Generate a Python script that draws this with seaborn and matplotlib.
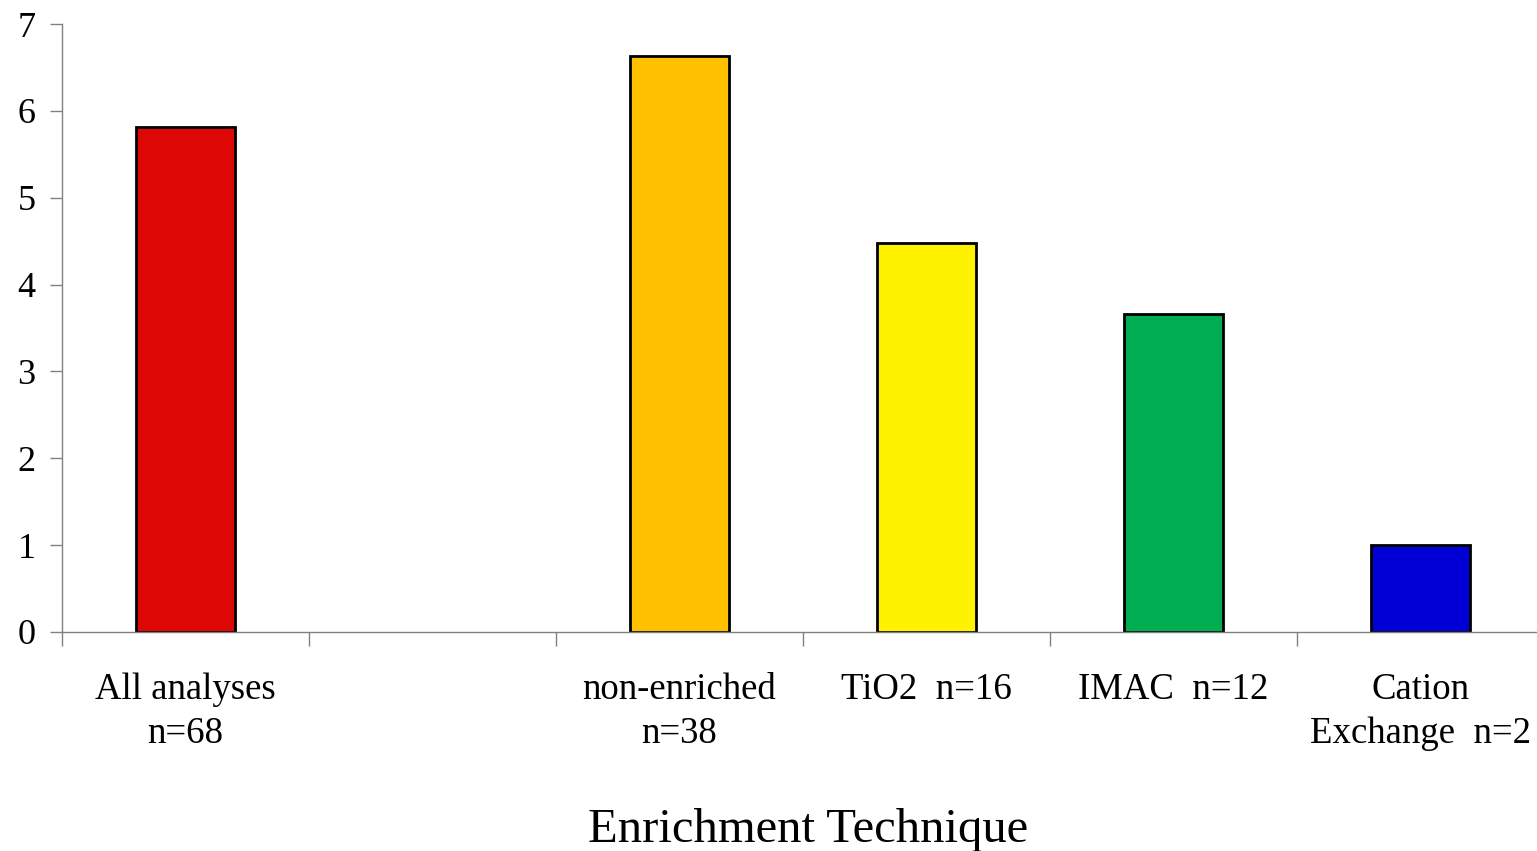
import numpy as np
import pandas as pd
import matplotlib
matplotlib.use("Agg")
import matplotlib.pyplot as plt
import seaborn as sns

# values
categories = ["All analyses\nn=68", "gap", "non-enriched\nn=38", "TiO2  n=16", "IMAC  n=12", "Cation\nExchange  n=2"]
values = [5.81, None, 6.63, 4.48, 3.66, 1.0]
colors = ["#DD0806", "#FFFFFF", "#FFC000", "#FFF200", "#00AD50", "#0000D4"]
tick_labels = ["All analyses\nn=68", "", "non-enriched\nn=38", "TiO2  n=16", "IMAC  n=12", "Cation\nExchange  n=2"]

sns.set_style("white")
plt.rcParams['font.family'] = ['Liberation Serif', 'DejaVu Serif']
plt.rcParams['text.color'] = 'black'

df = pd.DataFrame({"cat": categories, "val": values}).dropna()
pal = dict(zip(categories, colors))

fig = plt.figure(figsize=(15.37, 8.51), dpi=100)
ax = fig.add_axes([62/1537, 1-632/851, (1544-62)/1537, (632-24)/851])
sns.barplot(data=df, x="cat", y="val", hue="cat", order=categories, palette=pal,
            saturation=1, width=0.4, edgecolor="black", linewidth=2, legend=False, ax=ax)

ax.set_xlim(-0.5, 5.5)
ax.set_ylim(0, 7)
ax.set_yticks(range(8))
ax.tick_params(axis="y", labelsize=26, labelcolor="black", length=9, width=1, color="#808080",
               direction="out", pad=10, left=True)

# category labels on centers, tick marks between categories
ax.set_xticks(range(len(categories)))
ax.set_xticklabels(tick_labels, fontsize=26.5, linespacing=1.38, color="black")
ax.set_xticks(np.arange(-0.5, 5.5, 1), minor=True)
ax.tick_params(axis="x", which="major", length=0, pad=29)
ax.tick_params(axis="x", which="minor", length=10, width=1, color="#808080", direction="out", bottom=True)

for s in ["top", "right"]:
    ax.spines[s].set_visible(False)
for s in ["left", "bottom"]:
    ax.spines[s].set_color("#808080")
    ax.spines[s].set_linewidth(1)

ax.set_ylabel("")
ax.set_xlabel("")
fig.text(808/1537, 1-842/851, "Enrichment Technique", fontsize=35, color="black",
         ha="center", va="baseline")

fig.savefig("out.png", dpi=100)
